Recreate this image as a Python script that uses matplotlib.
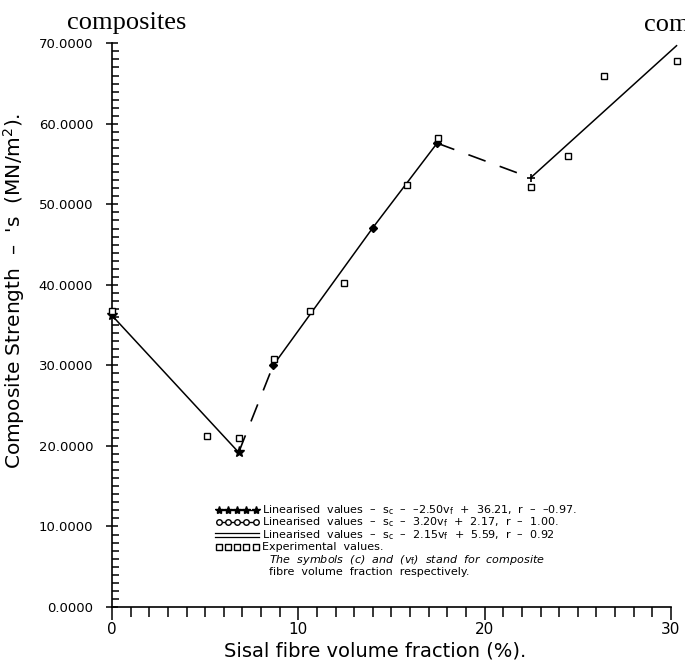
import numpy as np
import matplotlib.pyplot as plt
from matplotlib.ticker import MultipleLocator, FormatStrFormatter

# Experimental values (open squares)
exp_x = [0.0, 5.1, 6.8, 8.7, 10.65, 12.45, 15.85, 17.5, 22.47, 24.5, 26.4, 30.3]
exp_y = [36.7, 21.2, 21.0, 30.8, 36.7, 40.2, 52.4, 58.3, 52.1, 56.0, 65.9, 67.8]

# Linearised segments
seg1_x = [0.0, 6.8]
seg1_y = [36.2, 19.2]
seg2_x = [8.65, 14.0, 17.45]
seg2_y = [30.0, 47.1, 57.6]
seg3_x = [22.47, 30.3]
seg3_y = [53.3, 69.7]

legend_lines = [
    r'Linearised  values  –  s$_{\rm c}$  –  –2.50v$_{\rm f}$  +  36.21,  r  –  –0.97.',
    r'Linearised  values  –  s$_{\rm c}$  –  3.20v$_{\rm f}$  +  2.17,  r  –  1.00.',
    r'Linearised  values  –  s$_{\rm c}$  –  2.15v$_{\rm f}$  +  5.59,  r  –  0.92',
    'Experimental  values.',
]
note_lines = [
    r'The  symbols  (c)  and  (v$_{\rm f}$)  stand  for  composite',
    'fibre  volume  fraction  respectively.',
]

fig = plt.figure(figsize=(6.85, 6.64), dpi=100)
ax = fig.add_axes([0.1635, 0.0858, 0.816, 0.849])

# solid linearised lines
ax.plot(seg1_x, seg1_y, color='black', lw=1.1, marker='*', ms=8, clip_on=False)
ax.plot(seg2_x, seg2_y, color='black', lw=1.1, marker='D', ms=4, clip_on=False)
ax.plot(seg3_x, seg3_y, color='black', lw=1.1, clip_on=False)
ax.plot(seg3_x[:1], seg3_y[:1], color='black', marker='+', ms=6, mew=1.2)

# dashed connectors
ax.plot([seg1_x[-1], seg2_x[0]], [seg1_y[-1], seg2_y[0]], color='black',
        lw=1.2, dashes=(11, 9))
ax.plot([seg2_x[-1], seg3_x[0]], [seg2_y[-1], seg3_y[0]], color='black',
        lw=1.2, dashes=(11, 9))

# experimental squares
ax.plot(exp_x, exp_y, ls='none', marker='s', ms=5, mfc='white', mec='black',
        mew=1.0, clip_on=False, zorder=3)

ax.set_xlim(0, 30)
ax.set_ylim(0, 70)
ax.spines['top'].set_visible(False)
ax.spines['right'].set_visible(False)
ax.spines['left'].set_linewidth(1.2)
ax.spines['bottom'].set_linewidth(1.2)

ax.xaxis.set_major_locator(MultipleLocator(10))
ax.xaxis.set_minor_locator(MultipleLocator(1))
ax.yaxis.set_major_locator(MultipleLocator(10))
ax.yaxis.set_minor_locator(MultipleLocator(1))
ax.yaxis.set_major_formatter(FormatStrFormatter('%.4f'))

ax.tick_params(axis='x', which='major', direction='out', length=9, width=1.1,
               labelsize=11, pad=2)
ax.tick_params(axis='x', which='minor', direction='out', length=7, width=1.1)
ax.tick_params(axis='y', which='major', direction='inout', length=9, width=1.1,
               labelsize=9.5, pad=9)
ax.tick_params(axis='y', which='minor', direction='in', length=5, width=1.1)

ax.set_xlabel('Sisal fibre volume fraction (%).', fontsize=14, labelpad=2)
ax.xaxis.set_label_coords(0.47, -0.062)
ax.set_ylabel("Composite Strength  –  's  (MN/m$^2$).", fontsize=14.5)
ax.yaxis.set_label_coords(-0.152, 0.56)

# legend block drawn by hand
tr = ax.transAxes
x_sym0, x_sym1, x_txt = 0.185, 0.263, 0.268
row_y = [0.172, 0.150, 0.128, 0.106]
xs = np.linspace(x_sym0 + 0.006, x_sym1 - 0.006, 5)
ax.plot(xs, [row_y[0]] * 5, ls='-', color='black', lw=1, marker='*', ms=6,
        transform=tr, clip_on=False)
ax.plot(xs, [row_y[1]] * 5, ls='-', color='black', lw=1, marker='o', ms=4,
        mfc='white', transform=tr, clip_on=False)
ax.plot([x_sym0, x_sym1], [row_y[2] + 0.003] * 2, color='black', lw=0.9,
        transform=tr, clip_on=False)
ax.plot([x_sym0, x_sym1], [row_y[2] - 0.004] * 2, color='black', lw=0.9,
        transform=tr, clip_on=False)
ax.plot(xs, [row_y[3]] * 5, ls='none', marker='s', ms=4, mfc='white',
        mec='black', transform=tr, clip_on=False)
for yy, txt in zip(row_y, legend_lines):
    ax.text(x_txt, yy, txt, transform=tr, fontsize=8, va='center', ha='left')
ax.text(x_txt + 0.012, 0.084, note_lines[0], transform=tr, fontsize=8,
        va='center', ha='left', style='italic')
ax.text(x_txt + 0.012, 0.062, note_lines[1], transform=tr, fontsize=8,
        va='center', ha='left')

# scanned page text around the figure
fig.text(67 / 685, 1 - 29 / 664, 'composites', family='Liberation Serif',
         fontsize=19, va='baseline')
fig.text(644 / 685, 1 - 31 / 664, 'composites', family='Liberation Serif',
         fontsize=19, va='baseline')

fig.savefig('out.png', dpi=100)
